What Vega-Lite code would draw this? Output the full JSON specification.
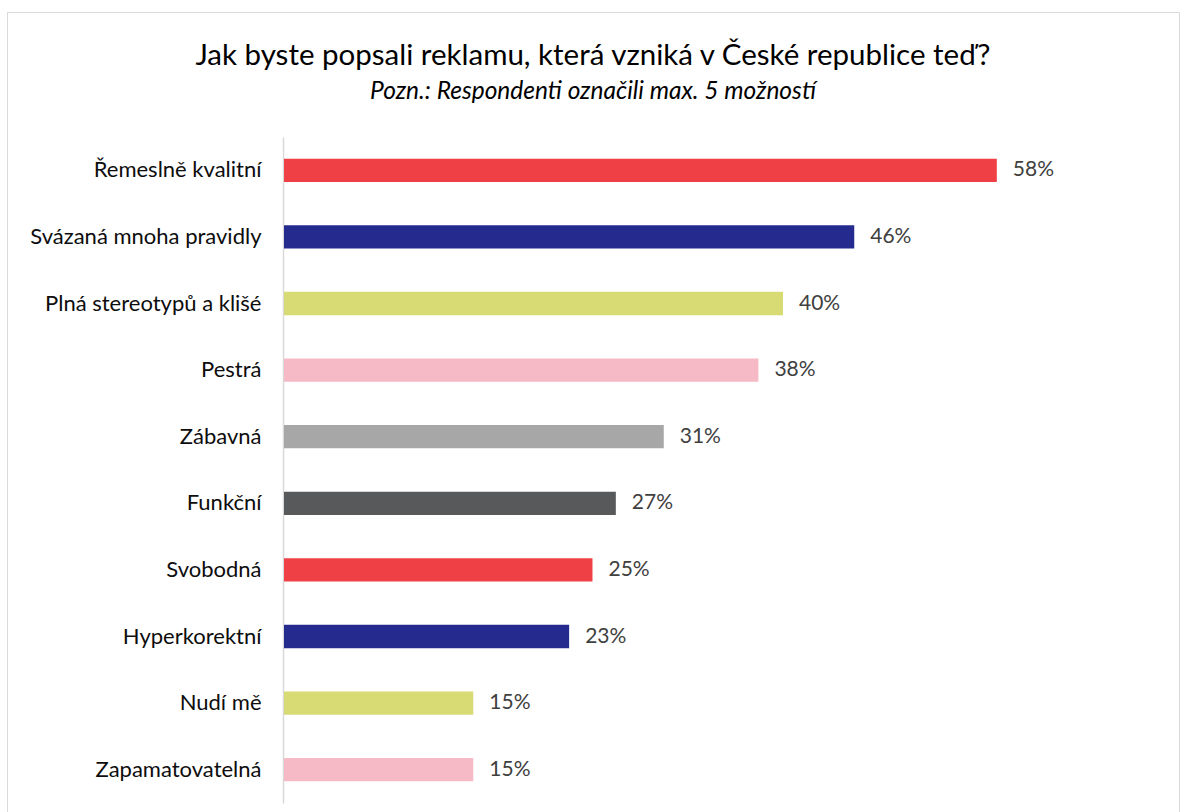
{
  "$schema": "https://vega.github.io/schema/vega-lite/v6.json",
  "width": 1172,
  "height": 800,
  "autosize": {"type": "none"},
  "padding": {"left": 7, "top": 12, "right": 1, "bottom": 0},
  "background": "white",
  "config": {
    "view": {"stroke": "#d9d9d9", "strokeWidth": 1},
    "font": "Lato"
  },
  "title": {
    "text": "Jak byste popsali reklamu, která vzniká v České republice teď?",
    "subtitle": "Pozn.: Respondenti označili max. 5 možností",
    "anchor": "middle",
    "frame": "group",
    "offset": -92,
    "font": "Lato",
    "fontSize": 29.5,
    "fontWeight": "normal",
    "color": "#000000",
    "subtitleFont": "Lato",
    "subtitleFontSize": 24.5,
    "subtitleFontStyle": "italic",
    "subtitleColor": "#000000",
    "subtitlePadding": 8
  },
  "data": {
    "values": [
      {"kategorie": "Řemeslně kvalitní", "hodnota": 58.0, "popisek": "58%"},
      {"kategorie": "Svázaná mnoha pravidly", "hodnota": 46.4, "popisek": "46%"},
      {"kategorie": "Plná stereotypů a klišé", "hodnota": 40.6, "popisek": "40%"},
      {"kategorie": "Pestrá", "hodnota": 38.6, "popisek": "38%"},
      {"kategorie": "Zábavná", "hodnota": 30.9, "popisek": "31%"},
      {"kategorie": "Funkční", "hodnota": 27.0, "popisek": "27%"},
      {"kategorie": "Svobodná", "hodnota": 25.1, "popisek": "25%"},
      {"kategorie": "Hyperkorektní", "hodnota": 23.2, "popisek": "23%"},
      {"kategorie": "Nudí mě", "hodnota": 15.4, "popisek": "15%"},
      {"kategorie": "Zapamatovatelná", "hodnota": 15.4, "popisek": "15%"}
    ]
  },
  "encoding": {
    "y": {
      "field": "kategorie",
      "type": "nominal",
      "sort": null,
      "title": null,
      "scale": {"range": [125, 791], "paddingInner": 0.65, "paddingOuter": 0.325},
      "axis": {
        "orient": "left",
        "offset": -276,
        "domain": true,
        "domainColor": "#d9d9d9",
        "domainWidth": 1.5,
        "ticks": false,
        "grid": false,
        "labelPadding": 22,
        "labelFont": "Lato",
        "labelFontSize": 22,
        "labelColor": "#0d0d0d",
        "labelLimit": 300
      }
    },
    "x": {
      "field": "hodnota",
      "type": "quantitative",
      "scale": {"domain": [0, 70], "range": [277, 1137.3], "nice": false, "zero": true},
      "axis": null
    }
  },
  "layer": [
    {
      "mark": {"type": "bar"},
      "encoding": {
        "color": {
          "field": "kategorie",
          "type": "nominal",
          "legend": null,
          "scale": {
            "domain": ["Řemeslně kvalitní", "Svázaná mnoha pravidly", "Plná stereotypů a klišé", "Pestrá", "Zábavná", "Funkční", "Svobodná", "Hyperkorektní", "Nudí mě", "Zapamatovatelná"],
            "range": ["#ef4046", "#252a8e", "#d8da73", "#f6bac6", "#a7a7a8", "#58595b", "#ef4046", "#252a8e", "#d8da73", "#f6bac6"]
          }
        }
      }
    },
    {
      "mark": {"type": "text", "align": "left", "baseline": "middle", "dx": 16, "font": "Lato", "fontSize": 21, "color": "#404040"},
      "encoding": {"text": {"field": "popisek"}}
    }
  ]
}
